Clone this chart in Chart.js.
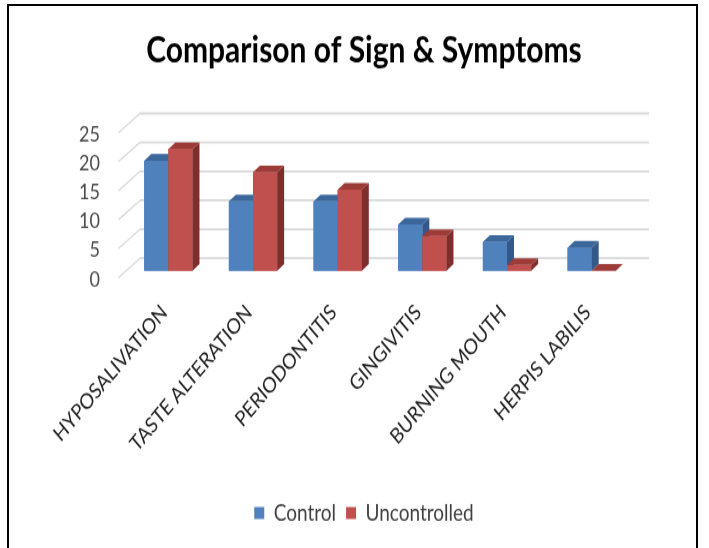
<!DOCTYPE html>
<html>
<head>
<meta charset="utf-8">
<title>Comparison of Sign &amp; Symptoms</title>
<script src="https://cdn.jsdelivr.net/npm/chart.js@4.4.1/dist/chart.umd.min.js"></script>
<style>
  html, body { margin: 0; padding: 0; background: #fff; overflow: hidden; width: 709px; height: 548px; }
  #wrap { position: absolute; left: 0; top: 0; width: 709px; height: 457px; transform: scaleY(1.2); transform-origin: 0 0; }
  #frame { position: absolute; left: 7px; top: 4px; width: 691px; height: 600px; border: 2px solid #000; border-bottom: none; box-sizing: border-box; pointer-events: none; }
</style>
</head>
<body>
<div id="wrap"><canvas id="chart" width="709" height="457"></canvas></div>
<div id="frame"></div>
<script>
// Symptom categories and counts per group
const categories = ['HYPOSALIVATION', 'TASTE ALTERATION', 'PERIODONTITIS', 'GINGIVITIS', 'BURNING MOUTH', 'HERPIS LABILIS'];
const controlValues = [19, 12, 12, 8, 5, 4];
const uncontrolledValues = [21, 17, 14, 6, 1, 0];
const yTicks = [0, 5, 10, 15, 20, 25];

// Pseudo-3D look: offsets of the bar depth and of the back/front walls (canvas px)
const BAR_DX = 7, BAR_DY = -5.6;
const BACK_DX = 14, BACK_DY = -10.5;
const FRONT_DX = -7.6, FRONT_DY = 5.7;

const FONT = 'Lato, "Open Sans", sans-serif';
const TICK_SIZE = 18;

// Value labels sit on the front wall, right-aligned 26px left of the bar plane
const measureCtx = document.createElement('canvas').getContext('2d');
measureCtx.font = TICK_SIZE + 'px ' + FONT;
const widestTick = Math.max(...yTicks.map(v => measureCtx.measureText(String(v)).width));

// Back wall grid lines plus the slanted lines on the side wall
const wallGrid = {
  id: 'wallGrid',
  beforeDatasetsDraw(chart) {
    const { ctx, chartArea } = chart;
    const y = chart.scales.y;
    ctx.save();
    ctx.strokeStyle = '#d9d9d9';
    yTicks.forEach(v => {
      const py = y.getPixelForValue(v);
      ctx.lineWidth = 1.8;
      ctx.beginPath();
      ctx.moveTo(chartArea.left + BACK_DX, py + BACK_DY);
      ctx.lineTo(chartArea.right + BACK_DX + 1, py + BACK_DY);
      ctx.stroke();
      ctx.lineWidth = 1.3;
      ctx.beginPath();
      ctx.moveTo(chartArea.left + FRONT_DX, py + FRONT_DY);
      ctx.lineTo(chartArea.left + BACK_DX, py + BACK_DY);
      ctx.stroke();
    });
    ctx.restore();
  }
};

// Top and side faces for each bar, painted category by category so the
// right-hand bar of a pair covers the side of the left-hand one
const barDepth = {
  id: 'barDepth',
  afterDatasetsDraw(chart) {
    const { ctx } = chart;
    ctx.save();
    categories.forEach((_, i) => {
      chart.data.datasets.forEach((ds, d) => {
        const el = chart.getDatasetMeta(d).data[i];
        const { x, y, base, width } = el.getProps(['x', 'y', 'base', 'width'], true);
        const x0 = x - width / 2, x1 = x + width / 2;
        ctx.fillStyle = ds.backgroundColor;
        ctx.fillRect(x0, y, width, base - y);
        ctx.fillStyle = ds.topColor;
        ctx.beginPath();
        ctx.moveTo(x0, y);
        ctx.lineTo(x1, y);
        ctx.lineTo(x1 + BAR_DX, y + BAR_DY);
        ctx.lineTo(x0 + BAR_DX, y + BAR_DY);
        ctx.closePath();
        ctx.fill();
        ctx.fillStyle = ds.sideColor;
        ctx.beginPath();
        ctx.moveTo(x1, y);
        ctx.lineTo(x1 + BAR_DX, y + BAR_DY);
        ctx.lineTo(x1 + BAR_DX, base + BAR_DY);
        ctx.lineTo(x1, base);
        ctx.closePath();
        ctx.fill();
      });
    });
    ctx.restore();
  }
};

new Chart(document.getElementById('chart'), {
  type: 'bar',
  data: {
    labels: categories,
    datasets: [
      { label: 'Control', data: controlValues, backgroundColor: '#4f81bd', topColor: '#3c679b', sideColor: '#33598a', borderWidth: 0 },
      { label: 'Uncontrolled', data: uncontrolledValues, backgroundColor: '#c0504d', topColor: '#9d3b38', sideColor: '#7e2f2c', borderWidth: 0 }
    ]
  },
  options: {
    responsive: false,
    animation: false,
    events: [],
    layout: { padding: { top: 10, left: 94, right: 75, bottom: 10 } },
    datasets: { bar: { categoryPercentage: 0.57, barPercentage: 1.0 } },
    scales: {
      x: {
        grid: { display: false, drawTicks: false, tickLength: 0 },
        border: { display: false },
        ticks: {
          autoSkip: false, minRotation: 45, maxRotation: 45,
          padding: 24, labelOffset: -4,
          color: '#1e1e1e', font: { family: FONT, size: TICK_SIZE }
        },
        afterFit(scale) { scale.height = 182.3; }
      },
      y: {
        min: 0, max: 25,
        grid: { display: false, drawTicks: false, tickLength: 0 },
        border: { display: false },
        ticks: {
          stepSize: 5, autoSkip: false, mirror: true, crossAlign: 'far',
          padding: -26 - widestTick, labelOffset: 7,
          color: '#4a4a4a', font: { family: FONT, size: TICK_SIZE }
        },
        afterFit(scale) { scale.width = 32; }
      }
    },
    plugins: {
      tooltip: { enabled: false },
      title: {
        display: true,
        text: 'Comparison of Sign & Symptoms',
        color: '#000',
        font: { family: FONT, size: 30, weight: 'bold' },
        padding: { top: 14, bottom: 45 }
      },
      legend: {
        position: 'bottom',
        labels: {
          boxWidth: 10, boxHeight: 10, padding: 10,
          color: '#404040', font: { family: FONT, size: 19 }
        }
      }
    }
  },
  plugins: [wallGrid, barDepth]
});
</script>
</body>
</html>
